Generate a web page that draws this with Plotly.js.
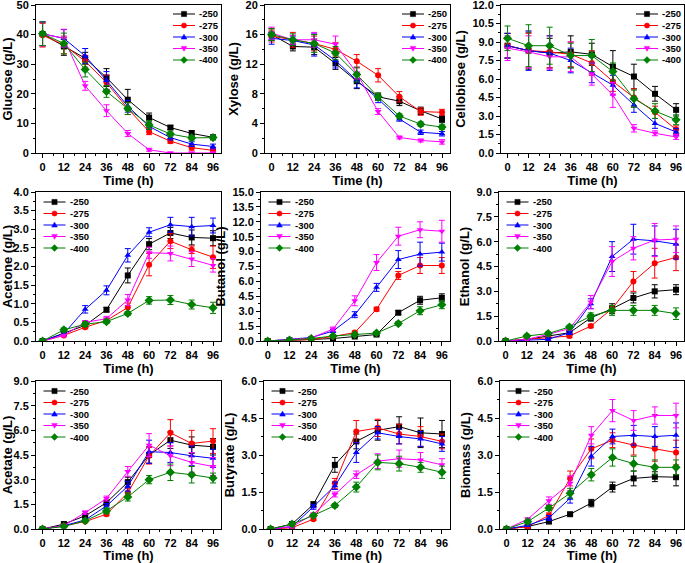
<!DOCTYPE html>
<html>
<head>
<meta charset="utf-8">
<script src="https://cdn.plot.ly/plotly-3.0.1.min.js"></script>
<style>html,body{margin:0;padding:0;background:#fff;}#chart{width:685px;height:563px;}</style>
</head>
<body>
<div id="chart"></div>
<script>
// ---------- DATA ----------
const time = [0, 12, 24, 36, 48, 60, 72, 84, 96];
const seriesNames = ['-250', '-275', '-300', '-350', '-400'];
const seriesColors = ['#000000', '#FF0000', '#0000FF', '#FF00FF', '#008000'];
const seriesSymbols = ['square', 'circle', 'triangle-up', 'triangle-down', 'diamond'];

const panelTitles = ['Glucose (g/L)', 'Xylose (g/L)', 'Cellobiose (g/L)',
                     'Acetone (g/L)', 'Butanol (g/L)', 'Ethanol (g/L)',
                     'Acetate (g/L)', 'Butyrate (g/L)', 'Biomass (g/L)'];
const yMax   = [50, 20, 12, 4, 15, 9, 9, 6, 6];
const yDtick = [10, 4, 1.5, 0.5, 1.5, 1.5, 1.5, 1.5, 1.5];
const yDecimals = [0, 0, 1, 1, 1, 1, 1, 1, 1];
const legendCorner = ['right', 'right', 'right', 'left', 'left', 'left', 'left', 'left', 'left'];

// rows: -250, -275, -300, -350, -400
const glucose = [
  [40.2, 36.0, 32.0, 25.5, 18.0, 12.0, 8.6, 6.6, 5.3],
  [39.8, 36.5, 31.0, 23.8, 15.0, 7.2, 4.0, 1.8, 0.9],
  [40.3, 38.7, 32.8, 24.5, 15.8, 9.0, 5.2, 3.0, 2.2],
  [40.2, 38.8, 22.7, 14.3, 6.6, 1.1, 0.0, 0.0, 0.0],
  [40.3, 37.0, 28.2, 20.8, 15.0, 9.5, 6.4, 5.1, 5.2]];
const glucoseErr = [
  [4, 3, 2, 3, 3.5, 1.5, 0.7, 1, 0.7],
  [4, 3, 2, 2.5, 2, 1, 0.7, 0.8, 0.5],
  [4, 3, 2.5, 3, 2, 1, 0.8, 0.8, 0.8],
  [4, 3, 1.5, 2, 1, 0.5, 0.3, 0.3, 0.3],
  [4, 3.5, 2.5, 2, 2, 1.5, 0.7, 0.7, 0.7]];

const xylose = [
  [16.0, 14.4, 14.3, 12.1, 9.7, 7.6, 7.0, 5.7, 4.6],
  [15.8, 15.3, 14.8, 14.0, 12.4, 10.5, 7.6, 5.6, 5.5],
  [15.5, 15.2, 14.6, 12.5, 9.8, 7.3, 4.6, 2.8, 2.6],
  [16.2, 15.3, 15.3, 14.7, 10.8, 5.6, 2.1, 1.7, 1.5],
  [16.0, 15.3, 14.8, 13.5, 10.6, 7.6, 5.0, 3.9, 3.5]];
const xyloseErr = [
  [0.8, 0.6, 1, 0.8, 1, 0.5, 0.6, 0.5, 0.5],
  [0.8, 1, 1, 0.9, 0.9, 0.9, 0.7, 0.5, 0.4],
  [0.8, 0.6, 1.5, 1, 1, 0.5, 0.3, 0.3, 0.3],
  [0.8, 0.6, 1, 1.1, 0.8, 0.4, 0.2, 0.2, 0.3],
  [0.8, 0.8, 1.2, 0.9, 1, 0.5, 0.3, 0.3, 0.3]];

const cellobiose = [
  [8.7, 8.3, 8.1, 8.2, 8.0, 7.0, 6.2, 4.8, 3.5],
  [8.7, 8.3, 8.2, 8.0, 7.3, 5.8, 4.5, 3.3, 1.9],
  [8.7, 8.3, 8.1, 7.5, 6.5, 5.5, 3.9, 2.4, 1.7],
  [8.5, 8.2, 7.8, 7.8, 6.4, 4.7, 2.0, 1.6, 1.3],
  [9.3, 8.7, 8.7, 7.9, 7.9, 6.6, 4.4, 3.4, 2.7]];
const cellobioseErr = [
  [1, 1.5, 1.2, 1.3, 0.9, 1.3, 1, 0.6, 0.5],
  [1, 1.4, 1.3, 1, 1, 0.8, 0.7, 0.5, 0.3],
  [1, 1.6, 1.4, 1, 0.8, 0.8, 0.6, 0.4, 0.3],
  [1, 1.3, 1, 1.2, 0.9, 1, 0.3, 0.2, 0.2],
  [1, 1.7, 1.5, 1, 1.3, 0.7, 0.7, 0.6, 0.4]];

const acetone = [
  [0, 0.20, 0.42, 0.84, 1.76, 2.60, 2.90, 2.78, 2.76],
  [0, 0.15, 0.37, 0.55, 0.90, 2.05, 2.68, 2.45, 2.25],
  [0, 0.20, 0.85, 1.36, 2.30, 2.92, 3.12, 3.07, 3.10],
  [0, 0.15, 0.50, 0.60, 1.10, 2.37, 2.35, 2.20, 2.03],
  [0, 0.30, 0.45, 0.52, 0.74, 1.09, 1.10, 0.98, 0.89]];
const acetoneErr = [
  [0.02, 0.03, 0.05, 0.06, 0.2, 0.15, 0.15, 0.2, 0.2],
  [0.02, 0.03, 0.04, 0.05, 0.12, 0.3, 0.2, 0.1, 0.3],
  [0.02, 0.03, 0.1, 0.12, 0.18, 0.12, 0.2, 0.25, 0.2],
  [0.02, 0.03, 0.05, 0.06, 0.15, 0.15, 0.2, 0.2, 0.18],
  [0.02, 0.05, 0.06, 0.05, 0.05, 0.1, 0.12, 0.12, 0.15]];

const butanol = [
  [0, 0.05, 0.15, 0.25, 0.45, 0.65, 2.85, 4.10, 4.35],
  [0, 0.10, 0.15, 0.45, 0.85, 3.20, 6.60, 7.60, 7.60],
  [0, 0.20, 0.35, 1.00, 2.65, 5.40, 8.20, 8.75, 8.95],
  [0, 0.15, 0.30, 1.20, 4.05, 7.90, 10.55, 11.20, 11.05],
  [0, 0.10, 0.25, 0.50, 0.65, 0.80, 1.75, 3.05, 3.65]];
const butanolErr = [
  [0.05, 0.05, 0.05, 0.1, 0.1, 0.1, 0.2, 0.4, 0.4],
  [0.05, 0.05, 0.05, 0.1, 0.15, 0.2, 0.4, 0.8, 0.8],
  [0.05, 0.1, 0.1, 0.15, 0.3, 0.4, 0.9, 1.2, 0.9],
  [0.05, 0.05, 0.1, 0.2, 0.5, 0.8, 0.9, 0.8, 1.1],
  [0.05, 0.05, 0.05, 0.1, 0.1, 0.15, 0.2, 0.4, 0.4]];

const ethanol = [
  [0, 0.10, 0.30, 0.50, 1.40, 1.95, 2.60, 3.00, 3.10],
  [0, 0.10, 0.20, 0.30, 0.90, 1.95, 3.60, 4.70, 5.05],
  [0, 0.05, 0.10, 0.50, 2.25, 5.10, 6.15, 6.05, 5.85],
  [0, 0.10, 0.40, 0.75, 2.35, 4.80, 5.60, 6.10, 6.15],
  [0, 0.30, 0.45, 0.85, 1.50, 1.85, 1.85, 1.85, 1.65]];
const ethanolErr = [
  [0.05, 0.05, 0.1, 0.1, 0.2, 0.3, 0.3, 0.4, 0.3],
  [0.05, 0.05, 0.05, 0.1, 0.1, 0.2, 0.6, 0.9, 0.8],
  [0.05, 0.05, 0.1, 0.1, 0.3, 0.9, 0.9, 0.9, 0.9],
  [0.05, 0.05, 0.1, 0.1, 0.4, 0.9, 0.7, 1.0, 0.8],
  [0.05, 0.1, 0.1, 0.1, 0.2, 0.3, 0.3, 0.3, 0.35]];

const acetate = [
  [0, 0.30, 0.80, 1.60, 2.85, 4.50, 5.40, 5.10, 5.00],
  [0, 0.20, 0.45, 0.90, 2.20, 4.45, 5.85, 5.20, 5.35],
  [0, 0.20, 0.55, 1.40, 2.60, 4.70, 4.65, 4.45, 4.30],
  [0, 0.20, 1.00, 1.85, 3.50, 5.10, 4.45, 4.05, 3.80],
  [0, 0.15, 0.50, 1.10, 1.95, 3.00, 3.45, 3.30, 3.10]];
const acetateErr = [
  [0.05, 0.05, 0.1, 0.15, 0.3, 0.5, 0.5, 0.5, 0.5],
  [0.05, 0.05, 0.05, 0.1, 0.25, 0.5, 0.8, 0.8, 0.75],
  [0.05, 0.05, 0.1, 0.15, 0.3, 0.7, 0.6, 0.6, 0.55],
  [0.05, 0.05, 0.1, 0.15, 0.3, 0.7, 0.6, 0.6, 0.55],
  [0.05, 0.05, 0.1, 0.15, 0.25, 0.25, 0.5, 0.5, 0.3]];

const butyrate = [
  [0, 0.20, 1.00, 2.60, 3.55, 4.00, 4.15, 3.90, 3.85],
  [0, 0.05, 0.40, 1.85, 3.95, 4.10, 3.85, 3.75, 3.55],
  [0, 0.10, 0.90, 1.75, 3.10, 3.90, 3.75, 3.65, 3.45],
  [0, 0.10, 0.60, 1.40, 2.20, 2.75, 2.85, 2.80, 2.60],
  [0, 0.20, 0.55, 0.95, 1.70, 2.70, 2.65, 2.50, 2.30]];
const butyrateErr = [
  [0.02, 0.05, 0.1, 0.3, 0.3, 0.4, 0.4, 0.6, 0.55],
  [0.02, 0.05, 0.05, 0.2, 0.45, 0.35, 0.4, 0.4, 0.3],
  [0.02, 0.05, 0.1, 0.15, 0.4, 0.25, 0.3, 0.3, 0.3],
  [0.02, 0.05, 0.05, 0.1, 0.15, 0.3, 0.35, 0.3, 0.25],
  [0.02, 0.05, 0.05, 0.08, 0.2, 0.3, 0.3, 0.2, 0.25]];

const biomass = [
  [0, 0.10, 0.30, 0.60, 1.05, 1.70, 2.05, 2.12, 2.10],
  [0, 0.10, 0.55, 2.05, 3.25, 3.60, 3.40, 3.25, 3.10],
  [0, 0.15, 0.45, 1.25, 2.95, 3.75, 3.80, 3.75, 3.80],
  [0, 0.40, 1.15, 1.85, 3.80, 4.80, 4.40, 4.60, 4.60],
  [0, 0.30, 0.85, 1.45, 2.20, 2.90, 2.65, 2.50, 2.50]];
const biomassErr = [
  [0.02, 0.05, 0.05, 0.05, 0.15, 0.2, 0.3, 0.2, 0.35],
  [0.02, 0.05, 0.1, 0.3, 0.4, 0.3, 0.4, 0.5, 0.5],
  [0.02, 0.05, 0.1, 0.2, 0.4, 0.3, 0.4, 0.4, 0.5],
  [0.02, 0.05, 0.15, 0.3, 0.35, 0.45, 0.4, 0.35, 0.5],
  [0.02, 0.05, 0.1, 0.2, 0.25, 0.35, 0.3, 0.3, 0.3]];

const panelValues = [glucose, xylose, cellobiose, acetone, butanol, ethanol, acetate, butyrate, biomass];
const panelErrors = [glucoseErr, xyloseErr, cellobioseErr, acetoneErr, butanolErr, ethanolErr, acetateErr, butyrateErr, biomassErr];

// ---------- LAYOUT GEOMETRY (pixels) ----------
const W = 685, H = 563;
// [left, right, top, bottom] of each plot area
const boxes = [
  [36, 221, 5, 153], [265, 450, 5, 153], [501, 684, 5, 153],
  [36, 221, 192, 341], [261, 450, 192, 341], [499, 684, 192, 341],
  [36, 221, 381, 529], [264, 450, 381, 529], [500, 684, 381, 529]];
const px = v => v / W;
const py = v => 1 - v / H;

const FONT = 'Liberation Sans, Arial, sans-serif';
const traces = [];
const layout = {
  width: W, height: H,
  margin: {l: 0, r: 0, t: 0, b: 0},
  paper_bgcolor: '#fff', plot_bgcolor: '#fff',
  showlegend: false, hovermode: false,
  font: {family: FONT, color: '#000'},
  shapes: [], annotations: []
};

function symbolShapes(sym, cx, cy, r, color) {
  const base = {xref: 'paper', yref: 'paper', fillcolor: color, line: {color: color, width: 0.5}};
  if (sym === 'square') return [Object.assign({type: 'rect', x0: px(cx - r), x1: px(cx + r), y0: py(cy + r), y1: py(cy - r)}, base)];
  if (sym === 'circle') return [Object.assign({type: 'circle', x0: px(cx - r), x1: px(cx + r), y0: py(cy + r), y1: py(cy - r)}, base)];
  let pts;
  if (sym === 'triangle-up') pts = [[cx, cy - r * 1.1], [cx + r * 1.1, cy + r * 0.8], [cx - r * 1.1, cy + r * 0.8]];
  else if (sym === 'triangle-down') pts = [[cx, cy + r * 1.1], [cx + r * 1.1, cy - r * 0.8], [cx - r * 1.1, cy - r * 0.8]];
  else pts = [[cx, cy - r * 1.3], [cx + r * 1.3, cy], [cx, cy + r * 1.3], [cx - r * 1.3, cy]];
  const path = 'M' + pts.map(p => px(p[0]) + ',' + py(p[1])).join('L') + 'Z';
  return [Object.assign({type: 'path', path: path}, base)];
}

function steps(max, d) {
  const out = [];
  const n = Math.round(max / d);
  for (let i = 0; i <= n; i++) out.push(+(i * d).toFixed(4));
  return out;
}

panelValues.forEach((vals, p) => {
  const n = p + 1;
  const xa = 'x' + (n === 1 ? '' : n), ya = 'y' + (n === 1 ? '' : n);
  const xk = 'xaxis' + (n === 1 ? '' : n), yk = 'yaxis' + (n === 1 ? '' : n);
  const [l, r, t, b] = boxes[p];

  vals.forEach((row, s) => {
    traces.push({
      type: 'scatter', mode: 'lines+markers',
      x: time, y: row, name: seriesNames[s],
      xaxis: xa, yaxis: ya,
      line: {color: seriesColors[s], width: 1},
      marker: {symbol: seriesSymbols[s], size: seriesSymbols[s] === 'diamond' ? 7 : 6, color: seriesColors[s]},
      error_y: {type: 'data', array: panelErrors[p][s], visible: true, color: seriesColors[s], thickness: 1, width: 3}
    });
  });

  const yt = steps(yMax[p], yDtick[p]);
  const ytMinor = steps(yMax[p], yDtick[p] / 2);

  layout[xk] = {
    domain: [px(l), px(r)], anchor: ya,
    range: [-3.7, 100.5], tickmode: 'array', tickvals: time, ticktext: time.map(String),
    ticks: 'outside', ticklen: 4, tickwidth: 1, tickcolor: '#000',
    minor: {tickmode: 'array', tickvals: steps(96, 6), ticks: 'outside', ticklen: 2, tickcolor: '#000'},
    showline: true, mirror: true, linecolor: '#000', linewidth: 1,
    showgrid: false, zeroline: false, fixedrange: true, ticklabeloverflow: 'allow',
    tickfont: {family: FONT, size: 11, weight: 'bold', color: '#000'},
    title: {text: 'Time (h)', font: {family: FONT, size: 13, weight: 'bold', color: '#000'}, standoff: 1}
  };
  layout[yk] = {
    domain: [py(b), py(t)], anchor: xa,
    range: [0, yMax[p]], tickmode: 'array', tickvals: yt,
    ticktext: yt.map(v => v.toFixed(yDecimals[p])),
    ticks: 'outside', ticklen: 4, tickwidth: 1, tickcolor: '#000',
    minor: {tickmode: 'array', tickvals: ytMinor, ticks: 'outside', ticklen: 2, tickcolor: '#000'},
    showline: true, mirror: true, linecolor: '#000', linewidth: 1,
    showgrid: false, zeroline: false, fixedrange: true, ticklabeloverflow: 'allow',
    tickfont: {family: FONT, size: 11, weight: 'bold', color: '#000'},
    title: {text: panelTitles[p], font: {family: FONT, size: 13, weight: 'bold', color: '#000'}, standoff: 3}
  };

  // custom compact legend
  const lx0 = legendCorner[p] === 'right' ? r - 48 : l + 7.5;
  const ly0 = t + (legendCorner[p] === 'right' ? 9 : 10);
  seriesNames.forEach((name, s) => {
    const yy = ly0 + s * 11.5;
    layout.shapes.push({type: 'line', xref: 'paper', yref: 'paper',
      x0: px(lx0), x1: px(lx0 + 22), y0: py(yy), y1: py(yy),
      line: {color: seriesColors[s], width: 1}});
    symbolShapes(seriesSymbols[s], lx0 + 11, yy, 2.6, seriesColors[s]).forEach(sh => layout.shapes.push(sh));
    layout.annotations.push({xref: 'paper', yref: 'paper', x: px(lx0 + 24), y: py(yy),
      xanchor: 'left', yanchor: 'middle', showarrow: false, text: name,
      font: {family: FONT, size: 9.5, weight: 'bold', color: '#000'}});
  });
});

Plotly.newPlot('chart', traces, layout, {displayModeBar: false, staticPlot: true});
</script>
</body>
</html>
